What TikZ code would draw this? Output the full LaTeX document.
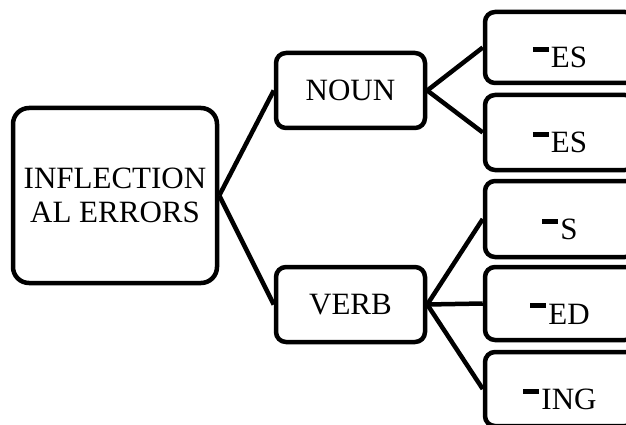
\documentclass[tikz,border=0pt]{standalone}
\usepackage{fontspec}
\setmainfont{Liberation Serif}
\newcommand\bardash{\rule[16pt]{16pt}{5pt}\kern2pt}
\newcommand\sufx[1]{\raisebox{-20.5pt}[0pt][0pt]{\bardash #1}}
\tikzset{
  box/.style={draw, line width=4.5pt, rounded corners=10pt, fill=white, inner sep=0pt,
    align=center, font=\fontsize{31}{34}\selectfont},
  sufbox/.style={box, minimum width=150pt, minimum height=73pt},
  conn/.style={line width=4.5pt}
}
\begin{document}
\begin{tikzpicture}[x=1pt,y=-1pt]
\useasboundingbox (0,0) rectangle (626,425);
\clip (0,0) rectangle (626,425);
\fill[white] (0,0) rectangle (626,425);
\node[box, minimum width=204pt, minimum height=175pt, rounded corners=16pt] (root) at (115,195.5) {INFLECTION\\AL ERRORS};
\node[box, minimum width=149pt, minimum height=75pt] (noun) at (350.5,90.5) {NOUN};
\node[box, minimum width=149pt, minimum height=75pt] (verb) at (350.5,304.5) {VERB};
\node[sufbox, minimum height=71pt] (es1) at (560,47.5) {\sufx{ES}};
\node[sufbox, minimum height=75pt] (es2) at (560,132.5) {\sufx{ES}};
\node[sufbox, minimum height=76pt] (s) at (560,219) {\sufx{S}};
\node[sufbox] (ed) at (560,303.5) {\sufx{ED}};
\node[sufbox, minimum height=74pt] (ing) at (560,389) {\sufx{ING}};
\draw[conn] (root.east) -- (noun.west);
\draw[conn] (root.east) -- (verb.west);
\draw[conn] (noun.east) -- (es1.west);
\draw[conn] (noun.east) -- (es2.west);
\draw[conn] (verb.east) -- (s.west);
\draw[conn] (verb.east) -- (ed.west);
\draw[conn] (verb.east) -- (ing.west);
\end{tikzpicture}
\end{document}
